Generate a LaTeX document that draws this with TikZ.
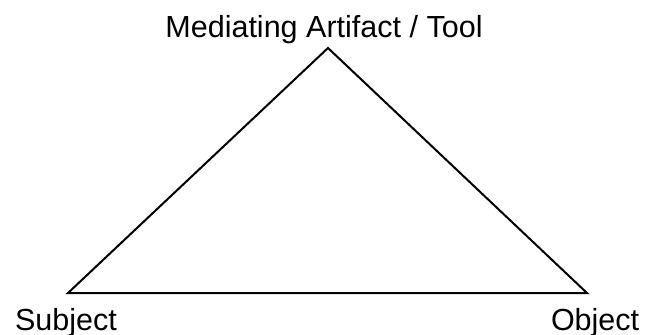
\documentclass[tikz,border=0pt]{standalone}
\usepackage{fontspec}
\setmainfont{Liberation Sans}
\tikzset{lbl/.style={inner sep=0pt,font=\fontsize{21.7}{26}\selectfont}}

\begin{document}
\begin{tikzpicture}[x=0.025cm,y=-0.025cm,line width=0.05cm]
  \useasboundingbox (0,0) rectangle (646,335);
  %SOMMETS
  \coordinate (T) at (328,48);
  \coordinate (S) at (68,293);
  \coordinate (O) at (587,293);
  %ETIQUETTES
  \node[lbl,anchor=base] (tool) at (324,37) {Mediating Artifact / Tool};
  \node[lbl,anchor=base west] (subject) at (14,330) {Subject};
  \node[lbl,anchor=base west] (object) at (550,330) {Object};
  %TRIANGLE
  \draw (S) -- (T) -- (O) -- cycle;
\end{tikzpicture}
\end{document}
